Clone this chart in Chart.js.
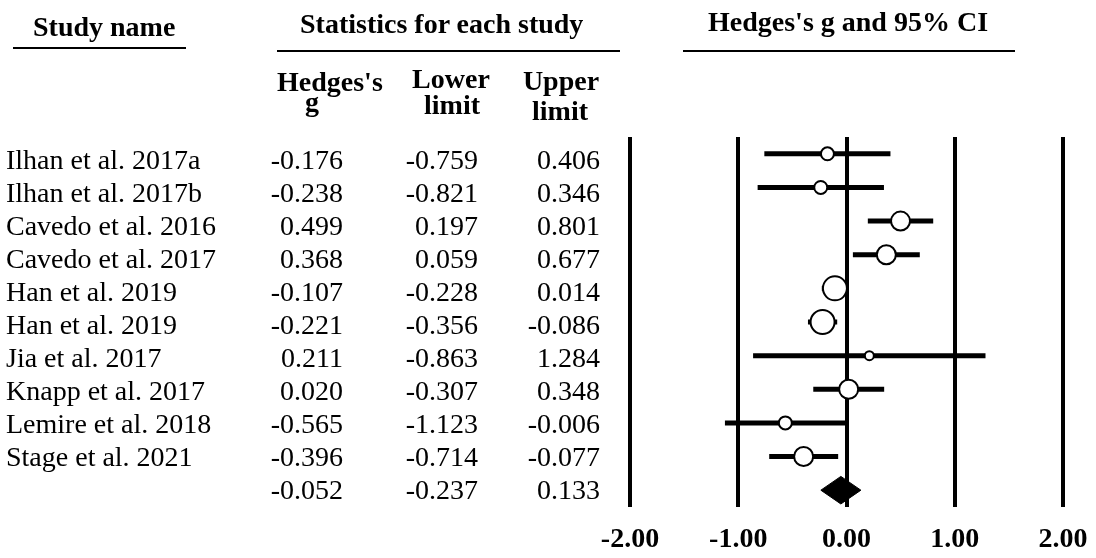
<!DOCTYPE html>
<html>
<head>
<meta charset="utf-8">
<script src="https://cdn.jsdelivr.net/npm/chart.js@4.4.1/dist/chart.umd.min.js"></script>
<style>
  body { margin: 0; background: #fff; }
  #wrap { position: relative; width: 1096px; height: 558px; overflow: hidden; background: #fff; }
  #plot { position: absolute; left: 0; top: 0; }
  .t { position: absolute; font-family: "Liberation Serif", "Times New Roman", serif; font-size: 28px; line-height: 28px; color: #000; white-space: nowrap; }
  .b { font-weight: bold; }
  .rule { position: absolute; height: 2px; background: #000; }
</style>
</head>
<body>
<div id="wrap">
  <canvas id="plot" width="1096" height="558"></canvas>
</div>
<script>
"use strict";

// study rows
const studies = [
  'Ilhan et al. 2017a',
  'Ilhan et al. 2017b',
  'Cavedo et al. 2016',
  'Cavedo et al. 2017',
  'Han et al. 2019',
  'Han et al. 2019',
  'Jia et al. 2017',
  'Knapp et al. 2017',
  'Lemire et al. 2018',
  'Stage et al. 2021'
];
const hedgesG = [-0.176, -0.238, 0.499, 0.368, -0.107, -0.221, 0.211, 0.020, -0.565, -0.396];
const lowerLimit = [-0.759, -0.821, 0.197, 0.059, -0.228, -0.356, -0.863, -0.307, -1.123, -0.714];
const upperLimit = [0.406, 0.346, 0.801, 0.677, 0.014, -0.086, 1.284, 0.348, -0.006, -0.077];

// pooled result
const summaryG = -0.052;
const summaryLower = -0.237;
const summaryUpper = 0.133;

const xTicks = [-2, -1, 0, 1, 2];

// marker size per study (weight), styling only
const markerRadius = [6.5, 6.5, 9.5, 9.5, 12, 12, 4.5, 9.5, 6.5, 9.5];

const wrap = document.getElementById('wrap');
const serif = 'Liberation Serif';

function addText(txt, x, y, opts) {
  opts = opts || {};
  let el = document.createElement('div');
  el.className = 't' + (opts.bold ? ' b' : '');
  el.textContent = txt;
  el.style.top = y + 'px';
  if (opts.right !== undefined) {
    el.style.left = (opts.right - 200) + 'px';
    el.style.width = '200px';
    el.style.textAlign = 'right';
  } else if (opts.center !== undefined) {
    el.style.left = (opts.center - 100) + 'px';
    el.style.width = '200px';
    el.style.textAlign = 'center';
  } else {
    el.style.left = x + 'px';
  }
  wrap.appendChild(el);
}

function addRule(x1, x2, y) {
  let el = document.createElement('div');
  el.className = 'rule';
  el.style.left = x1 + 'px';
  el.style.width = (x2 - x1) + 'px';
  el.style.top = (y - 1) + 'px';
  wrap.appendChild(el);
}

// headers
addText('Study name', 33, 13, {bold: true});
addRule(13, 186, 48);
addText('Statistics for each study', 300, 10, {bold: true});
addRule(277, 620, 51);
addText("Hedges's g and 95% CI", 708, 8, {bold: true});
addRule(683, 1015, 51);

addText("Hedges's", 277, 68, {bold: true});
addText('g', 305, 88, {bold: true});
addText('Lower', 0, 65, {bold: true, center: 451});
addText('limit', 0, 91, {bold: true, center: 452});
addText('Upper', 0, 67, {bold: true, center: 561});
addText('limit', 0, 97, {bold: true, center: 560});

// table rows
const rowTop = (i) => 160 + i * 33 - 14;
for (let i = 0; i < studies.length; i++) {
  addText(studies[i], 6, rowTop(i));
  addText(hedgesG[i].toFixed(3), 0, rowTop(i), {right: 343});
  addText(lowerLimit[i].toFixed(3), 0, rowTop(i), {right: 478});
  addText(upperLimit[i].toFixed(3), 0, rowTop(i), {right: 600});
}
let s = studies.length;
addText(summaryG.toFixed(3), 0, rowTop(s), {right: 343});
addText(summaryLower.toFixed(3), 0, rowTop(s), {right: 478});
addText(summaryUpper.toFixed(3), 0, rowTop(s), {right: 600});

// chart datasets
const ciSets = studies.map((name, i) => ({
  type: 'line',
  label: name,
  data: [{x: lowerLimit[i], y: i + 1}, {x: upperLimit[i], y: i + 1}],
  borderColor: '#000',
  borderWidth: 5,
  pointRadius: 0,
  showLine: true,
  order: 2
}));

const pointSet = {
  type: 'line',
  label: "Hedges's g",
  data: hedgesG.map((v, i) => ({x: v, y: i + 1})),
  showLine: false,
  pointRadius: markerRadius,
  pointBackgroundColor: '#fff',
  pointBorderColor: '#000',
  pointBorderWidth: 2,
  order: 0
};

const summaryRow = studies.length + 1;
const diamondHalf = 0.41;
const diamondSet = {
  type: 'line',
  label: 'Summary',
  data: [
    {x: summaryLower, y: summaryRow},
    {x: summaryG, y: summaryRow - diamondHalf},
    {x: summaryUpper, y: summaryRow},
    {x: summaryG, y: summaryRow + diamondHalf},
    {x: summaryLower, y: summaryRow}
  ],
  borderColor: '#000',
  backgroundColor: '#000',
  borderWidth: 1,
  pointRadius: 0,
  tension: 0,
  fill: 'shape',
  order: 1
};

const config = {
  type: 'line',
  data: {datasets: [pointSet, diamondSet].concat(ciSets)},
  options: {
    responsive: false,
    animation: false,
    devicePixelRatio: 1,
    layout: {padding: {left: 630, right: 33, top: 137, bottom: 1}},
    plugins: {legend: {display: false}, tooltip: {enabled: false}},
    scales: {
      x: {
        type: 'linear',
        min: -2,
        max: 2,
        afterBuildTicks: (axis) => { axis.ticks = xTicks.map(v => ({value: v})); },
        afterFit: (axis) => {
          axis.height = 50;
          axis.paddingLeft = 0;
          axis.paddingRight = 0;
        },
        grid: {color: '#000', lineWidth: 4, drawTicks: false},
        border: {display: false},
        ticks: {
          color: '#000',
          padding: 16,
          maxRotation: 0,
          autoSkip: false,
          font: {family: serif, size: 28, weight: 'bold'},
          callback: (v) => Number(v).toFixed(2)
        }
      },
      y: {
        type: 'linear',
        display: false,
        reverse: true,
        min: 0.5,
        max: studies.length + 1.5
      }
    }
  }
};

const myChart = new Chart(document.getElementById('plot'), config);
</script>
</body>
</html>
